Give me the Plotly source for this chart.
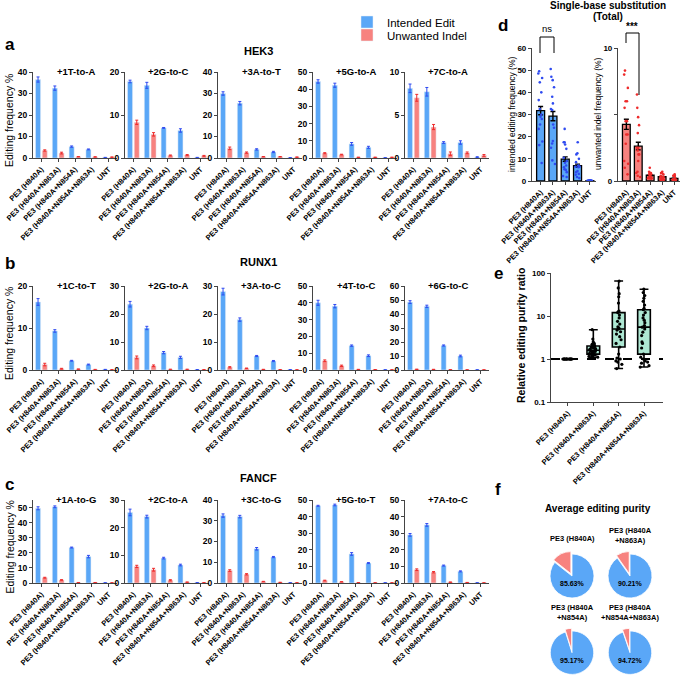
import numpy as np
import plotly.graph_objects as go

W, H = 685, 677
FONT = "Arial, Liberation Sans, sans-serif"
BLUE = "#5AA7F7"
RED = "#F7827F"
BLUE_DOT = "#2F4BF0"
RED_DOT = "#EE2B2B"
TEAL = "#AEE8D3"

categories = ["PE3 (H840A)", "PE3 (H840A+N863A)", "PE3 (H840A+N854A)",
              "PE3 (H840A+N854A+N863A)", "UNT"]

# ---- panel a: HEK3
hek3_sites = ["+1T-to-A", "+2G-to-C", "+3A-to-T", "+5G-to-A", "+7C-to-A"]
hek3_edit = [[36.5, 32.5, 5.3, 4.0, 0.2],
             [17.8, 16.9, 7.0, 6.4, 0.1],
             [30.0, 25.5, 4.0, 2.8, 0.1],
             [44.5, 42.3, 8.2, 6.2, 0.1],
             [8.1, 7.7, 1.8, 1.8, 0.1]]
hek3_edit_sd = [[1.2, 1.0, 0.3, 0.2, 0.1],
                [0.3, 0.7, 0.1, 0.4, 0.05],
                [0.8, 0.8, 0.3, 0.3, 0.1],
                [1.0, 1.2, 0.8, 0.6, 0.1],
                [0.5, 0.5, 0.1, 0.2, 0.05]]
hek3_indel = [[3.5, 2.3, 0.6, 0.5, 0.4],
              [8.3, 5.5, 0.6, 0.7, 0.5],
              [4.5, 2.5, 0.6, 0.6, 0.4],
              [2.8, 2.0, 0.4, 0.4, 0.4],
              [7.0, 3.6, 0.5, 0.6, 0.3]]
hek3_indel_sd = [[0.3, 0.4, 0.1, 0.1, 0.1],
                 [0.5, 0.4, 0.1, 0.1, 0.1],
                 [0.6, 0.3, 0.1, 0.1, 0.1],
                 [0.3, 0.2, 0.1, 0.1, 0.1],
                 [0.4, 0.3, 0.2, 0.1, 0.1]]
hek3_ymax = [40, 20, 40, 50, 10]
hek3_dtick = [10, 10, 10, 10, 5]

# ---- panel b: RUNX1
runx1_sites = ["+1C-to-T", "+2G-to-A", "+3A-to-C", "+4T-to-C", "+6G-to-C"]
runx1_edit = [[16.2, 9.3, 2.2, 1.3, 0.1],
              [23.5, 15.0, 6.2, 4.5, 0.1],
              [28.0, 18.0, 5.0, 3.2, 0.1],
              [40.0, 38.0, 14.5, 8.5, 0.1],
              [48.5, 45.5, 17.5, 10.0, 0.1]]
runx1_edit_sd = [[0.8, 0.3, 0.1, 0.1, 0.05],
                 [1.0, 0.6, 0.4, 0.4, 0.05],
                 [1.2, 0.6, 0.2, 0.2, 0.05],
                 [1.5, 1.0, 0.4, 0.5, 0.05],
                 [1.0, 0.8, 0.4, 0.6, 0.05]]
runx1_indel = [[1.3, 0.3, 0.2, 0.1, 0.05],
               [4.5, 1.5, 0.2, 0.2, 0.1],
               [1.0, 0.6, 0.2, 0.1, 0.05],
               [5.5, 2.5, 0.3, 0.2, 0.1],
               [0.5, 0.4, 0.2, 0.1, 0.1]]
runx1_indel_sd = [[0.3, 0.1, 0.05, 0.05, 0.05],
                  [0.5, 0.3, 0.1, 0.1, 0.05],
                  [0.2, 0.1, 0.05, 0.05, 0.05],
                  [0.5, 0.4, 0.1, 0.1, 0.05],
                  [0.1, 0.1, 0.05, 0.05, 0.05]]
runx1_ymax = [20, 30, 30, 50, 60]
runx1_dtick = [10, 10, 10, 10, 10]

# ---- panel c: FANCF
fancf_sites = ["+1A-to-G", "+2C-to-A", "+3C-to-G", "+5G-to-T", "+7A-to-C"]
fancf_edit = [[49.5, 50.5, 23.5, 17.5, 0.1],
              [25.5, 24.0, 9.0, 6.5, 0.1],
              [32.5, 32.0, 16.5, 12.5, 0.1],
              [46.5, 47.0, 17.5, 12.0, 0.1],
              [29.0, 35.0, 10.5, 7.0, 0.1]]
fancf_edit_sd = [[1.0, 0.6, 0.3, 0.8, 0.05],
                 [1.2, 0.5, 0.3, 0.3, 0.05],
                 [0.8, 0.6, 0.6, 0.3, 0.05],
                 [0.3, 0.5, 0.8, 0.3, 0.05],
                 [0.8, 0.8, 0.3, 0.3, 0.05]]
fancf_indel = [[3.5, 2.0, 0.3, 0.3, 0.1],
               [6.0, 4.8, 1.0, 0.3, 0.1],
               [6.0, 4.2, 0.7, 0.3, 0.1],
               [1.5, 0.7, 0.2, 0.1, 0.1],
               [8.0, 6.5, 0.5, 0.3, 0.1]]
fancf_indel_sd = [[0.3, 0.2, 0.05, 0.05, 0.05],
                  [0.4, 0.5, 0.2, 0.05, 0.05],
                  [0.4, 0.3, 0.1, 0.05, 0.05],
                  [0.2, 0.1, 0.05, 0.05, 0.05],
                  [0.5, 0.4, 0.1, 0.05, 0.05]]
fancf_ymax = [55, 30, 40, 50, 50]
fancf_dtick = [10, 10, 10, 10, 10]

REPLICATES = 3

# ---- panel e: relative editing purity ratio (vs PE3 H840A)
e_cats = categories[:4]
ratio_h840a = [1.0, 1.0, 1.0, 1.0, 1.0, 1.0, 1.0, 1.0, 1.0, 1.0, 1.0, 1.0, 1.0, 1.0, 1.0]
ratio_n863a = [1.1, 1.12, 1.15, 1.2, 1.22, 1.25, 1.28, 1.3, 1.35, 1.4, 1.45, 1.5, 1.52, 1.57, 1.6,
               1.65, 1.7, 1.75, 1.8, 1.85, 1.9, 2.0, 2.05, 2.1, 2.2, 2.3, 2.5, 2.9, 4.8]
ratio_n854a = [0.6, 0.75, 0.85, 0.9, 1.0, 1.05, 1.3, 1.9, 2.3, 2.8, 3.3, 3.8, 4.3, 4.7, 5.0,
               5.2, 5.6, 6.5, 7.5, 9.0, 10.5, 12.0, 12.5, 13.0, 20.0, 28.0, 33.0, 45.0, 65.0]
ratio_n854a_n863a = [0.65, 0.7, 0.8, 0.85, 0.9, 1.0, 1.1, 1.3, 1.8, 2.3, 2.5, 3.5, 4.2, 5.0, 5.5,
                     6.0, 7.0, 8.0, 9.0, 10.5, 12.0, 14.0, 15.0, 18.0, 22.0, 26.0, 30.0, 35.0, 42.0]

# ---- panel f: average editing purity (%)
pie_names = ["PE3 (H840A)", "PE3 (H840A<br>+N863A)", "PE3 (H840A<br>+N854A)",
             "PE3 (H840A<br>+N854A+N863A)"]
pie_purity = [85.63, 90.21, 95.17, 94.72]

genes = [
    ("HEK3", hek3_sites, hek3_edit, hek3_edit_sd, hek3_indel, hek3_indel_sd, hek3_ymax, hek3_dtick),
    ("RUNX1", runx1_sites, runx1_edit, runx1_edit_sd, runx1_indel, runx1_indel_sd, runx1_ymax, runx1_dtick),
    ("FANCF", fancf_sites, fancf_edit, fancf_edit_sd, fancf_indel, fancf_indel_sd, fancf_ymax, fancf_dtick),
]

fig = go.Figure()
annotations = []
shapes = []
axes = {}


def xdom(left, right):
    return [left / W, right / W]


def ydom(top, bottom):
    return [1 - bottom / H, 1 - top / H]


def txt(x, y, text, size, bold=False, angle=0, xanchor="center", yanchor="middle"):
    annotations.append(dict(x=x / W, y=1 - y / H, xref="paper", yref="paper",
                            text=f"<b>{text}</b>" if bold else text, showarrow=False,
                            font=dict(size=size, family=FONT, color="black"),
                            textangle=angle, xanchor=xanchor, yanchor=yanchor))


def names(k):
    s = "" if k == 1 else str(k)
    return "x" + s, "y" + s, "xaxis" + s, "yaxis" + s


AX = dict(showline=True, linecolor="#444", linewidth=1.2, ticks="outside", ticklen=3,
          tickwidth=1.1, tickcolor="#444", showgrid=False, zeroline=False, automargin=False)
XTICK = dict(size=7.5, family=FONT, color="black", weight="bold")
YTICK = dict(size=8.5, family=FONT, color="black", weight="bold")

col_left = [33, 125, 218, 313, 405]
row_top = [72, 286, 500]
row_bot = [158, 370, 583]
gene_y = [51, 262, 478]
letter_y = [45, 263, 484]
PW = 84

k = 0
for g, (gene, sites, edit, edit_sd, indel, indel_sd, ymax, dtick) in enumerate(genes):
    txt(258, gene_y[g], gene, 11, bold=True)
    txt(3, letter_y[g], "abc"[g], 17, bold=True, xanchor="left")
    txt(9, (row_top[g] + row_bot[g]) / 2 + 6, "Editing frequency %", 10.5, angle=-90)
    for s in range(5):
        k += 1
        xa, ya, xk, yk = names(k)
        fig.add_trace(go.Bar(x=categories, y=edit[s], name="Intended Edit", legendgroup="edit",
                             showlegend=(k == 1), legend="legend", marker=dict(color=BLUE),
                             error_y=dict(type="data", array=edit_sd[s], color=BLUE_DOT,
                                          thickness=1, width=1.5),
                             xaxis=xa, yaxis=ya))
        fig.add_trace(go.Bar(x=categories, y=indel[s], name="Unwanted Indel", legendgroup="indel",
                             showlegend=(k == 1), legend="legend2", marker=dict(color=RED),
                             error_y=dict(type="data", array=indel_sd[s], color=RED_DOT,
                                          thickness=1, width=1.5),
                             xaxis=xa, yaxis=ya))
        L = col_left[s]
        axes[xk] = dict(AX, domain=xdom(L, L + PW), anchor=ya, type="category",
                        range=[-0.5, 4.5], tickangle=-45, tickfont=XTICK)
        axes[yk] = dict(AX, domain=ydom(row_top[g], row_bot[g]), anchor=xa,
                        range=[0, ymax[s]], tickvals=list(range(0, ymax[s] + 1, dtick[s])),
                        tickfont=YTICK)
        txt(L + PW / 2 + 1, row_top[g] - 1, sites[s], 9.5, bold=True)

# ---- panel d: totals computed from all 15 sites
edit_pts = [[gd[2][s][c] for gd in genes for s in range(5)] for c in range(5)]
indel_pts = [[gd[4][s][c] for gd in genes for s in range(5)] for c in range(5)]


def mean_sem(pts):
    m = [float(np.mean(p)) for p in pts]
    e = [float(np.std(p, ddof=1) / np.sqrt(len(p) * REPLICATES)) for p in pts]
    return m, e


d_specs = [(16, edit_pts, BLUE, BLUE_DOT, 60, [0, 10, 20, 30, 40, 50, 60],
            [str(v) for v in range(0, 61, 10)], 532, 596),
           (17, indel_pts, RED, RED_DOT, 10, [0, 5, 10], ["0", "", "10"], 618, 680)]
for idx, pts, col, dot, ymax, tv, tt, left, right in d_specs:
    xa, ya, xk, yk = names(idx)
    m, e = mean_sem(pts)
    fig.add_trace(go.Bar(x=categories, y=m, width=0.65, showlegend=False,
                         marker=dict(color=col, line=dict(color="black", width=1.3)),
                         error_y=dict(type="data", array=e, color="black", thickness=1.4, width=2.5),
                         xaxis=xa, yaxis=ya))
    xs = [categories[c] for c in range(5) for _ in pts[c]]
    ys = [v for c in range(5) for v in pts[c]]
    fig.add_trace(go.Box(x=xs, y=ys, boxpoints="all", jitter=0.7, pointpos=0, width=0.6,
                         marker=dict(color=dot, size=2.6), fillcolor="rgba(0,0,0,0)",
                         line=dict(width=0, color="rgba(0,0,0,0)"), showlegend=False,
                         xaxis=xa, yaxis=ya))
    axes[xk] = dict(AX, domain=xdom(left, right), anchor=ya, type="category",
                    range=[-0.7, 4.5], tickangle=-45, tickfont=XTICK)
    axes[yk] = dict(AX, domain=ydom(48, 181), anchor=xa, range=[0, ymax],
                    tickvals=tv, ticktext=tt, tickfont=dict(YTICK, size=8))

txt(503, 25, "d", 17, bold=True)
txt(608, 6, "Single-base substitution", 10, bold=True)
txt(608, 17, "(Total)", 10, bold=True)
txt(512, 114, "intended editing frequency (%)", 8.5, angle=-90)
txt(598, 114, "unwanted indel frequency (%)", 8.5, angle=-90)


def bracket(x0, x1, ytop, yl, yr):
    for (a, b, c, d) in [(x0, ytop, x1, ytop), (x0, ytop, x0, yl), (x1, ytop, x1, yr)]:
        shapes.append(dict(type="line", xref="paper", yref="paper", x0=a / W, x1=c / W,
                           y0=1 - b / H, y1=1 - d / H, line=dict(color="black", width=1)))


bracket(540, 554, 37, 53, 53)
txt(547, 28, "ns", 9.5)
bracket(626, 639, 33, 43, 95)
txt(632, 26, "***", 10, bold=True)

# ---- panel e
ratios = [ratio_h840a, ratio_n863a, ratio_n854a, ratio_n854a_n863a]
q1 = [float(np.percentile(r, 25)) for r in ratios]
med = [float(np.percentile(r, 50)) for r in ratios]
q3 = [float(np.percentile(r, 75)) for r in ratios]
lo = [min(r) for r in ratios]
hi = [max(r) for r in ratios]
fig.add_trace(go.Box(x=e_cats, q1=q1, median=med, q3=q3, lowerfence=lo, upperfence=hi,
                     fillcolor=TEAL, line=dict(color="black", width=1.6), width=0.5,
                     whiskerwidth=0.7, boxpoints=False, showlegend=False,
                     xaxis="x18", yaxis="y18"))
ex = [e_cats[c] for c in range(4) for _ in ratios[c]]
ey = [v for c in range(4) for v in ratios[c]]
fig.add_trace(go.Box(x=ex, y=ey, boxpoints="all", jitter=0.8, pointpos=0, width=0.5,
                     marker=dict(color="black", size=3.2), fillcolor="rgba(0,0,0,0)",
                     line=dict(width=0, color="rgba(0,0,0,0)"), showlegend=False,
                     xaxis="x18", yaxis="y18"))
axes["xaxis18"] = dict(AX, domain=xdom(551, 663), anchor="y18", type="category",
                       range=[-0.67, 3.75], tickangle=-45, tickfont=XTICK)
axes["yaxis18"] = dict(AX, domain=ydom(273, 402), anchor="x18", type="log", range=[-1, 2],
                       tickvals=[0.1, 1, 10, 100], ticktext=["0.1", "1", "10", "100"],
                       tickfont=dict(YTICK, size=8))
shapes.append(dict(type="line", xref="x18 domain", yref="y18", x0=0, x1=1, y0=1, y1=1,
                   line=dict(color="black", width=2, dash="dash")))
txt(499, 273, "e", 17, bold=True)
txt(521, 336, "Relative editing purity ratio", 10.5, bold=True, angle=-90)

# ---- panel f
txt(498, 489, "f", 17, bold=True)
txt(598, 508, "Average editing purity", 10, bold=True)
pie_centers = [(572, 576), (630, 576), (572, 653), (630, 653)]
label_y = [538, 535, 612, 612]
R = 22
PULL = 0.12
for i, (cx, cy) in enumerate(pie_centers):
    half = R * (1 + PULL)
    fig.add_trace(go.Pie(values=[pie_purity[i], 100 - pie_purity[i]],
                         labels=["Intended Edit", "Unwanted Indel"], sort=False,
                         direction="clockwise", rotation=0, pull=[0, PULL],
                         marker=dict(colors=[BLUE, RED], line=dict(color="white", width=0.8)),
                         textinfo="none", showlegend=False,
                         domain=dict(x=xdom(cx - half, cx + half),
                                     y=[max(0, 1 - (cy + half) / H), 1 - (cy - half) / H])))
    txt(cx, cy + 7, f"{pie_purity[i]:.2f}%", 7, bold=True)
    txt(cx, label_y[i], pie_names[i], 7.5, bold=True)

LEG = dict(xanchor="left", yanchor="middle", font=dict(size=11.5, family=FONT),
           bgcolor="rgba(0,0,0,0)", itemwidth=30)
fig.update_layout(
    width=W, height=H, margin=dict(l=0, r=0, t=0, b=0),
    paper_bgcolor="white", plot_bgcolor="white",
    font=dict(family=FONT, color="black"),
    barmode="group", bargap=0.2, bargroupgap=0.25, boxmode="overlay",
    legend=dict(LEG, x=347 / W, y=1 - 22 / H),
    legend2=dict(LEG, x=347 / W, y=1 - 35 / H),
    annotations=annotations, shapes=shapes,
    **axes,
)

fig.write_html("out.html", config={"displayModeBar": False},
               post_script="document.body.style.margin='0px';")
